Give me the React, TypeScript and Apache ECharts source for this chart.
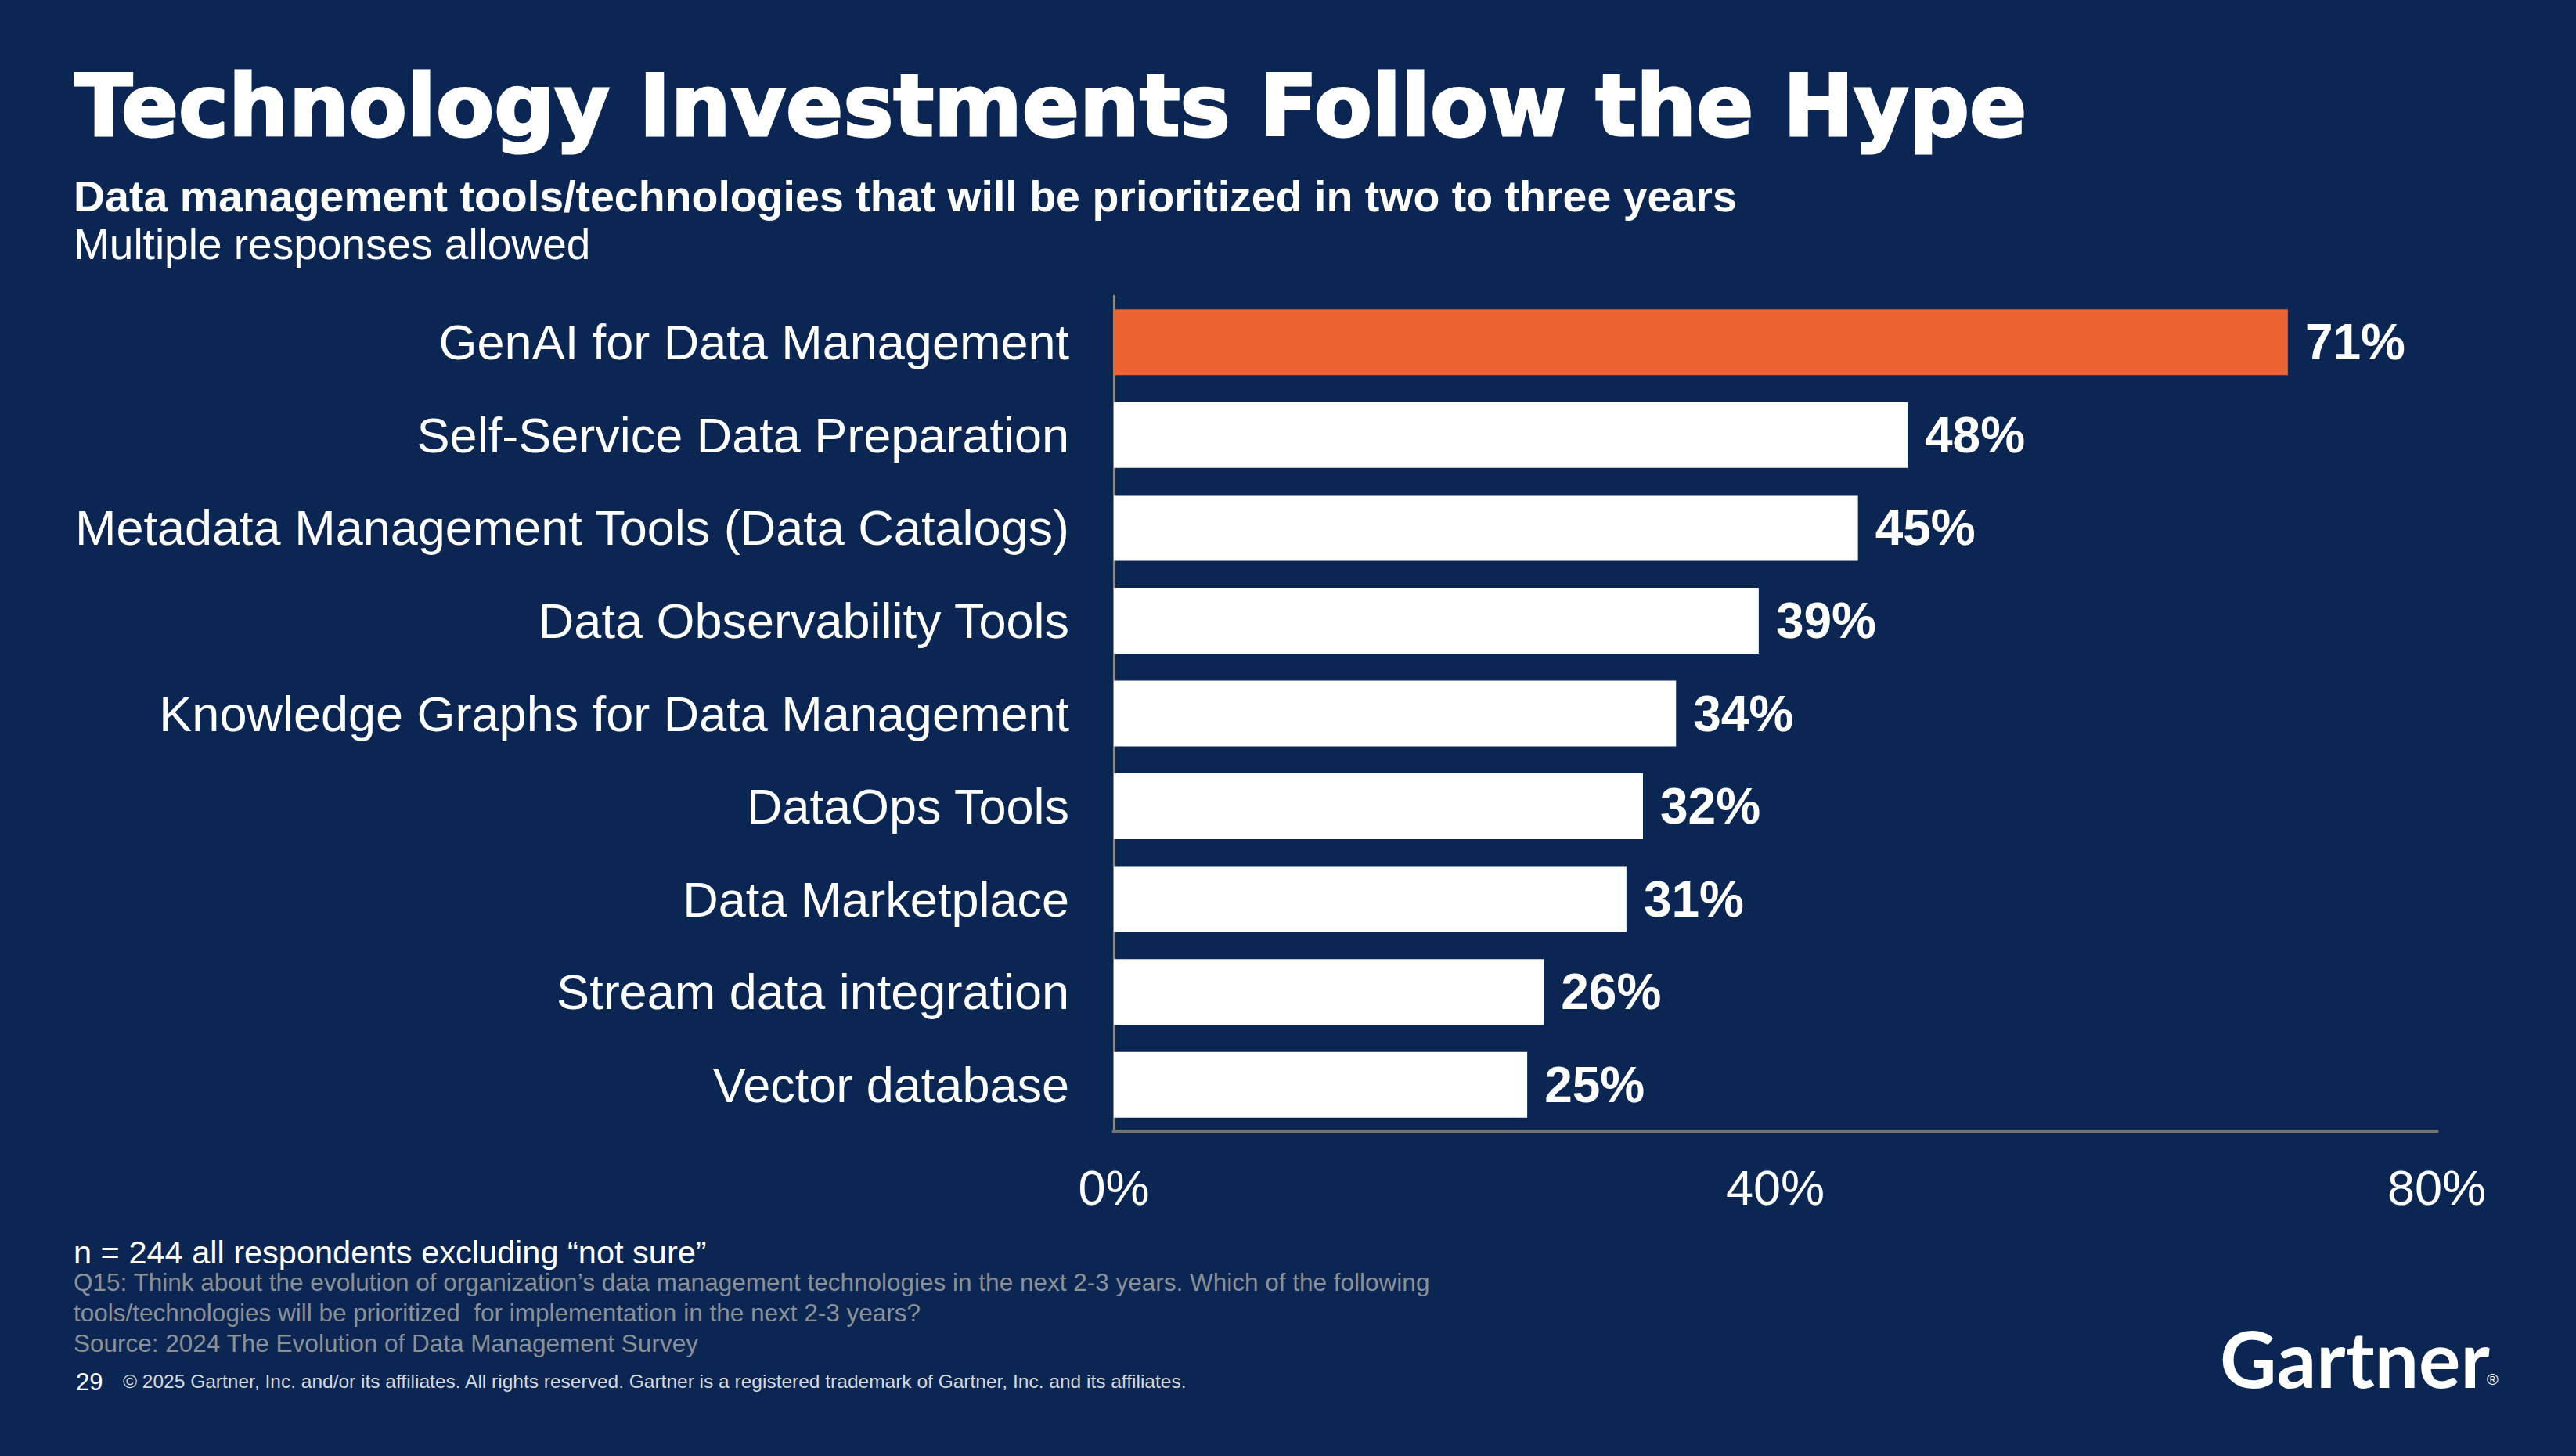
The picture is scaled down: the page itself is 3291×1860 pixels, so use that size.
import React, { useEffect, useRef } from "react";
import * as echarts from "echarts";

const categories = [
  "GenAI for Data Management",
  "Self-Service Data Preparation",
  "Metadata Management Tools (Data Catalogs)",
  "Data Observability Tools",
  "Knowledge Graphs for Data Management",
  "DataOps Tools",
  "Data Marketplace",
  "Stream data integration",
  "Vector database",
];
const values = [71, 48, 45, 39, 34, 32, 31, 26, 25];
const highlighted = ["GenAI for Data Management"];
const axisMin = 0;
const axisMax = 80;
const axisInterval = 40;

const titleText = "Technology Investments Follow the Hype";
const subtitleText = "Data management tools/technologies that will be prioritized in two to three years";
const noteText = "Multiple responses allowed";
const footnotes = [
  "Q15: Think about the evolution of organization’s data management technologies in the next 2-3 years. Which of the following",
  "tools/technologies will be prioritized  for implementation in the next 2-3 years?",
  "Source: 2024 The Evolution of Data Management Survey",
];
const sampleText = "n = 244 all respondents excluding “not sure”";
const pageNumber = "29";
const copyrightText =
  "© 2025 Gartner, Inc. and/or its affiliates. All rights reserved. Gartner is a registered trademark of Gartner, Inc. and its affiliates.";

const BG = "#0c2653";
const ORANGE = "#ec6331";
const SANS = "'Liberation Sans', Arial, sans-serif";

export default function App() {
  const ref = useRef<HTMLDivElement>(null);

  useEffect(() => {
    document.body.style.margin = "0";
    document.body.style.background = BG;
    const chart = echarts.init(ref.current!, undefined, { renderer: "svg" });
    const option: any = {
      animation: false,
      backgroundColor: BG,
      grid: { left: 1423, right: 178, top: 378, bottom: 415, containLabel: false },
      xAxis: {
        type: "value",
        min: axisMin,
        max: axisMax,
        interval: axisInterval,
        splitLine: { show: false },
        axisTick: { show: false },
        axisLine: { show: true, lineStyle: { color: "#6e7478", width: 5 } },
        axisLabel: {
          formatter: "{value}%",
          color: "#ffffff",
          fontSize: 63,
          fontFamily: SANS,
          margin: 40,
        },
      },
      yAxis: {
        type: "category",
        data: categories,
        inverse: true,
        axisTick: { show: false },
        axisLine: { show: true, lineStyle: { color: "#8a8a8a", width: 3 } },
        axisLabel: {
          color: "#ffffff",
          fontSize: 63,
          fontFamily: SANS,
          margin: 57,
        },
      },
      series: [
        {
          type: "bar",
          barWidth: 84,
          data: values.map((v, i) => ({
            value: v,
            itemStyle: { color: highlighted.includes(categories[i]) ? ORANGE : "#ffffff" },
          })),
          label: {
            show: true,
            position: "right",
            distance: 22,
            formatter: "{c}%",
            color: "#ffffff",
            fontSize: 64,
            fontWeight: "bold",
            fontFamily: SANS,
          },
        },
      ],
      graphic: [
        {
          type: "text",
          left: 94,
          top: 80,
          style: {
            text: titleText,
            fill: "#ffffff",
            stroke: "#ffffff",
            lineWidth: 3,
            font: "bold 108px 'DejaVu Sans', sans-serif",
          },
        },
        {
          type: "text",
          left: 94,
          top: 223,
          style: { text: subtitleText, fill: "#ffffff", font: `bold 55.5px ${SANS}` },
        },
        {
          type: "text",
          left: 94,
          top: 284,
          style: { text: noteText, fill: "#ffffff", font: `55px ${SANS}` },
        },
        {
          type: "text",
          left: 94,
          top: 1578,
          style: { text: sampleText, fill: "#ffffff", font: `41.5px ${SANS}` },
        },
        ...footnotes.map((t, i) => ({
          type: "text",
          left: 94,
          top: 1622 + i * 39,
          style: { text: t, fill: "#8b9096", font: `31.5px ${SANS}` },
        })),
        {
          type: "text",
          left: 97,
          top: 1750,
          style: { text: pageNumber, fill: "#ffffff", font: `31px ${SANS}` },
        },
        {
          type: "text",
          left: 157,
          top: 1752,
          style: { text: copyrightText, fill: "#d5d8de", font: `24.5px ${SANS}` },
        },
        {
          type: "text",
          left: 2836,
          top: 1684,
          style: { text: "Gartner", fill: "#ffffff", font: "bold 100px Lato, 'Liberation Sans', sans-serif" },
        },
        {
          type: "text",
          left: 3177,
          top: 1752,
          style: { text: "®", fill: "#ffffff", font: `20px ${SANS}` },
        },
      ],
    };
    chart.setOption(option);
    return () => chart.dispose();
  }, []);

  return (
    <div
      ref={ref}
      style={{ position: "absolute", left: 0, top: 0, width: 3291, height: 1860 }}
    />
  );
}
